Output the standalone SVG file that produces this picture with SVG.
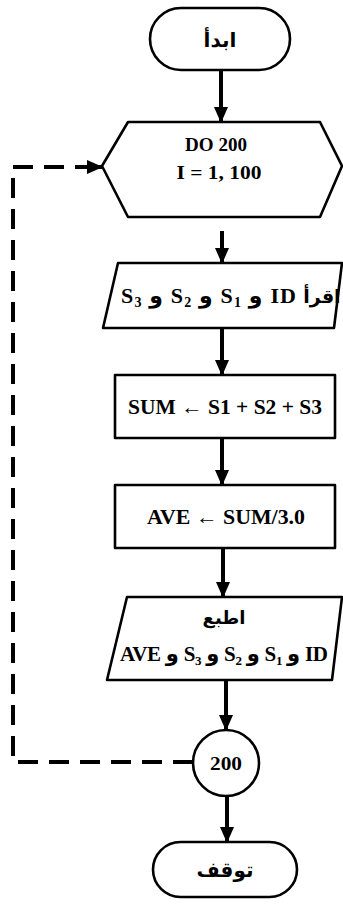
<svg xmlns="http://www.w3.org/2000/svg" width="343" height="909" viewBox="0 0 343 909">
<style>
.shape{fill:#fff;stroke:#000;stroke-width:2.6;stroke-linejoin:round}
.t{font-family:"Liberation Serif","DejaVu Sans",serif;font-weight:bold;fill:#000;text-anchor:middle}
.ar{font-family:"DejaVu Sans","Noto Sans",sans-serif;font-weight:bold;fill:#000;text-anchor:middle}
.mix{font-family:"Liberation Serif","DejaVu Sans",serif;font-weight:bold;fill:#000;text-anchor:start;unicode-bidi:bidi-override;direction:ltr}
.flow{stroke:#000;stroke-width:4;fill:none}
.dash{stroke:#000;stroke-width:4;fill:none;stroke-dasharray:20 11}
</style>
<defs>
<marker id="ah" markerUnits="userSpaceOnUse" markerWidth="16" markerHeight="16" viewBox="0 0 16 16" refX="15" refY="8" orient="auto">
<path d="M0,1 L16,8 L0,15 Z" fill="#000"/>
</marker>
</defs>
<g id="connectors">
<line class="flow" x1="221" y1="70" x2="221" y2="122" marker-end="url(#ah)"/>
<line class="flow" x1="222" y1="231" x2="222" y2="263" marker-end="url(#ah)"/>
<line class="flow" x1="222" y1="328" x2="222" y2="375" marker-end="url(#ah)"/>
<line class="flow" x1="222" y1="438" x2="222" y2="485" marker-end="url(#ah)"/>
<line class="flow" x1="223" y1="548" x2="223" y2="597" marker-end="url(#ah)"/>
<line class="flow" x1="226" y1="680" x2="226" y2="730" marker-end="url(#ah)"/>
<line class="flow" x1="227" y1="796" x2="227" y2="842" marker-end="url(#ah)"/>
<path class="dash" d="M193,762 H13 V167 H82"/>
<line class="flow" x1="82" y1="167" x2="102" y2="167" marker-end="url(#ah)"/>
</g>
<g id="start">
<rect class="shape" x="150" y="8" width="140" height="62" rx="31"/>
<text class="ar" x="220" y="47" font-size="20">ابدأ</text>
</g>
<g id="loop">
<polygon class="shape" points="102,166 128,122 320,122 342,166 320,217 128,217"/>
<text class="t" x="216" y="151" font-size="19" textLength="62" lengthAdjust="spacingAndGlyphs">DO 200</text>
<text class="t" x="219" y="179" font-size="19" textLength="85" lengthAdjust="spacingAndGlyphs">I = 1, 100</text>
</g>
<g id="read">
<polygon class="shape" points="118,263 342,263 334,328 103,328"/>
<text class="mix" x="121" y="303" font-size="22" textLength="175" lengthAdjust="spacing">S<tspan font-size="14" dy="4">3</tspan><tspan dy="-4"> و S</tspan><tspan font-size="14" dy="4">2</tspan><tspan dy="-4"> و S</tspan><tspan font-size="14" dy="4">1</tspan><tspan dy="-4"> و ID</tspan></text>
<text class="ar" x="322" y="303" font-size="19">اقرأ</text>
</g>
<g id="sum">
<rect class="shape" x="115" y="375" width="220" height="63"/>
<text class="t" x="225" y="414" font-size="20" textLength="194" lengthAdjust="spacingAndGlyphs">SUM ← S1 + S2 + S3</text>
</g>
<g id="ave">
<rect class="shape" x="115" y="485" width="220" height="63"/>
<text class="t" x="226" y="524" font-size="20" textLength="158" lengthAdjust="spacingAndGlyphs">AVE ← SUM/3.0</text>
</g>
<g id="print">
<polygon class="shape" points="127,597 342,597 332,680 107,680"/>
<text class="ar" x="224" y="624" font-size="18">اطبع</text>
<text class="mix" x="120" y="661" font-size="21" textLength="208" lengthAdjust="spacing">AVE و S<tspan font-size="13" dy="4">3</tspan><tspan dy="-4"> و S</tspan><tspan font-size="13" dy="4">2</tspan><tspan dy="-4"> و S</tspan><tspan font-size="13" dy="4">1</tspan><tspan dy="-4"> و ID</tspan></text>
</g>
<g id="c200">
<circle class="shape" cx="226" cy="763" r="33"/>
<text class="t" x="226" y="770" font-size="19" textLength="32" lengthAdjust="spacingAndGlyphs">200</text>
</g>
<g id="stop">
<rect class="shape" x="153" y="842" width="144" height="55" rx="27.5"/>
<text class="ar" x="225" y="877" font-size="20">توقف</text>
</g>
</svg>
